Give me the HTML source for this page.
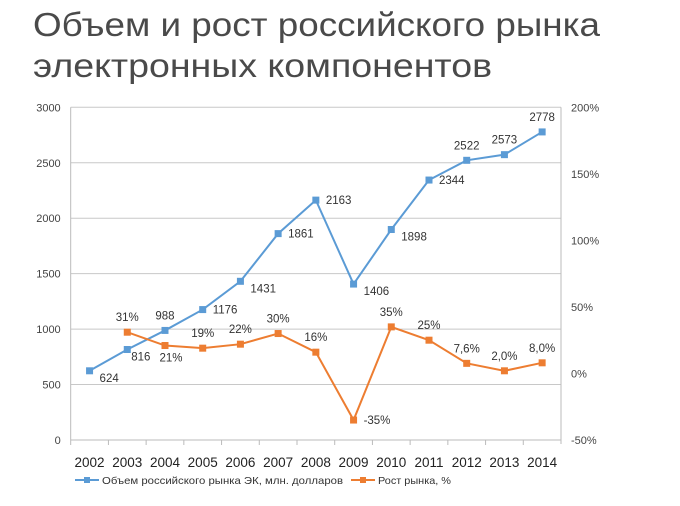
<!DOCTYPE html>
<html><head><meta charset="utf-8"><style>
body{margin:0;background:#fff;}
svg{display:block;font-family:"Liberation Sans","DejaVu Sans",sans-serif;}
</style></head><body>
<svg id="c" width="680" height="506" viewBox="0 0 680 506">
<text x="33" y="36" font-size="33" fill="#4a4a4a" textLength="567" lengthAdjust="spacingAndGlyphs">Объем и рост российского рынка</text>
<text x="33" y="77" font-size="33" fill="#4a4a4a" textLength="459" lengthAdjust="spacingAndGlyphs">электронных компонентов</text>
<g id="grid"></g><g id="axes"></g><g id="series"></g><g id="legend"></g>
</svg>
<script>
const years=['2002','2003','2004','2005','2006','2007','2008','2009','2010','2011','2012','2013','2014'];
const volume=[624,816,988,1176,1431,1861,2163,1406,1898,2344,2522,2573,2778];
const growth=[null,31,21,19,22,30,16,-35,35,25,7.6,2.0,8.0];
const growthLabels=['','31%','21%','19%','22%','30%','16%','-35%','35%','25%','7,6%','2,0%','8,0%'];
const leftTicks=[0,500,1000,1500,2000,2500,3000];
const rightTicks=[-50,0,50,100,150,200];
const volPos=['rb','rb2','a','r','rb','r','r','rb','rb','r','a','a','a'];
const grPos=['','a','b','a','a','a','a','r','a','a','a','a','a'];
const NS='http://www.w3.org/2000/svg';
const X0=70.7,X1=561,Y0=440,Y1=107.3;
const bw=(X1-X0)/years.length;
const xs=i=>X0+bw*(i+0.5);
const yL=v=>Y0-(v/3000)*(Y0-Y1);
const yR=v=>Y0-((v+50)/250)*(Y0-Y1);
function mk(parent,tag,attrs){const e=document.createElementNS(NS,tag);for(const k in attrs)e.setAttribute(k,attrs[k]);document.getElementById(parent).appendChild(e);return e;}
leftTicks.forEach(t=>{
  if(t>0){const l=mk('grid','line',{x1:X0,x2:X1,y1:yL(t),y2:yL(t),stroke:'#c8c8c8','stroke-width':1});
  
  }
  const tx=mk('axes','text',{x:X0-10,y:yL(t)+4,'font-size':11,'text-anchor':'end',fill:'#444'});tx.textContent=t;
  
  
});
rightTicks.forEach(t=>{
  const tx=mk('axes','text',{x:X1+10,y:yR(t)+4,'font-size':11,fill:'#444'});tx.textContent=t+'%';
  
  
});
let a=mk('axes','line',{x1:X0,x2:X0,y1:Y1,y2:Y0,stroke:'#bbb'});


a=mk('axes','line',{x1:X1,x2:X1,y1:Y1,y2:Y0+4,stroke:'#bbb'});


a=mk('axes','line',{x1:X0,x2:X1,y1:Y0,y2:Y0,stroke:'#bbb'});


years.forEach((y,i)=>{
  const tk=mk('axes','line',{x1:X0+bw*i,x2:X0+bw*i,y1:Y0,y2:Y0+5,stroke:'#bbb'});
  
  
  const tx=mk('axes','text',{x:xs(i),y:467,'font-size':13.5,'text-anchor':'middle',fill:'#222'});tx.textContent=y;
  
  
});
function series(vals,labels,pos,yf,color,name){
  let d='';vals.forEach((v,i)=>{if(v===null)return;d+=(d?'L':'M')+xs(i)+','+yf(v);});
  const p=mk('series','path',{d:d,fill:'none',stroke:color,'stroke-width':2});
  
  
  vals.forEach((v,i)=>{if(v===null)return;
    const x=xs(i),y=yf(v);
    const r=mk('series','rect',{x:x-3.5,y:y-3.5,width:7,height:7,fill:color});
    
    
    let lx=x+10,ly=y+4,anc='start';
    if(pos[i]==='rb'){ly=y+11;}
    if(pos[i]==='rb2'){lx=x+4;ly=y+11;}
    if(pos[i]==='a'){lx=x;ly=y-11;anc='middle';}
    if(pos[i]==='b'){lx=x+6;ly=y+16;anc='middle';}
    const t=mk('series','text',{x:lx,y:ly,'font-size':11.5,'text-anchor':anc,fill:'#333'});t.textContent=labels[i];
    
    
  });
}
series(volume,volume.map(String),volPos,yL,'#5b9bd5','volume');
series(growth,growthLabels,grPos,yR,'#ed7d31','growth');
function legend(x,color,label,name,w){
  const l=mk('legend','line',{x1:x,x2:x+24,y1:480,y2:480,stroke:color,'stroke-width':2});
  
  
  const r=mk('legend','rect',{x:x+9,y:477,width:6,height:6,fill:color});
  
  
  const t=mk('legend','text',{x:x+27,y:484,'font-size':10.5,fill:'#333',textLength:w,lengthAdjust:'spacingAndGlyphs'});t.textContent=label;
  
  
}
legend(75,'#5b9bd5','Объем российского рынка ЭК, млн. долларов','volume',241);
legend(351,'#ed7d31','Рост рынка, %','growth',73);
</script>
</body></html>
